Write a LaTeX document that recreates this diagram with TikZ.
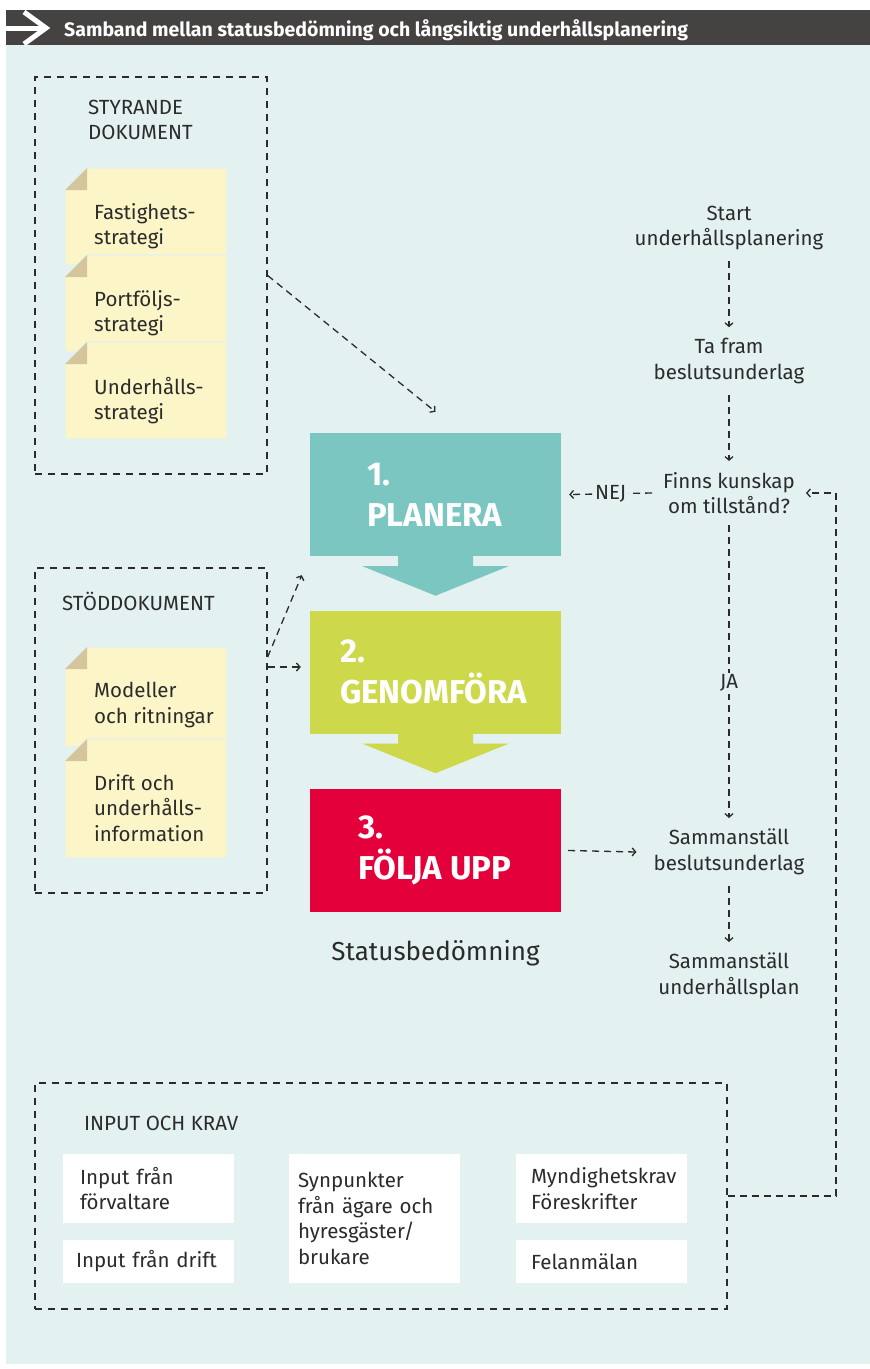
\documentclass[tikz,border=0pt]{standalone}
\usepackage{fontspec}
\setmainfont{Fira Sans}
\usetikzlibrary{arrows.meta}
\definecolor{bgblue}{HTML}{E3F1F1}
\definecolor{headgray}{HTML}{454341}
\definecolor{textgray}{HTML}{2B2B2B}
\definecolor{planteal}{HTML}{7BC6C0}
\definecolor{genomgreen}{HTML}{CDD84A}
\definecolor{foljred}{HTML}{E4003A}
\definecolor{noteyellow}{HTML}{FBF5C8}
\definecolor{foldtan}{HTML}{D4C59D}
\tikzset{
  frame/.style={draw=textgray, line width=1.3pt, dash pattern=on 7pt off 6pt, inner sep=0pt},
  flow/.style={draw=textgray, line width=1.3pt, dash pattern=on 7pt off 5pt, -{Straight Barb[length=3.5pt,width=8pt]}},
  flowtext/.style={align=center, inner sep=11pt, text=textgray},
  flowlabel/.style={fill=bgblue, inner sep=2pt, text=textgray},
  block/.style={minimum width=251pt, minimum height=123pt, inner sep=0pt},
  blocktext/.style={font=\fontsize{33}{41}\selectfont\bfseries, text=white, align=left, inner sep=0pt, anchor=west},
  notetext/.style={align=left, inner sep=0pt, anchor=north west, text=textgray},
  framelabel/.style={align=left, inner sep=0pt, text=textgray},
  inputbox/.style={fill=white, minimum width=171pt, align=left, text width=#1, inner xsep=0pt, inner ysep=0pt, text=textgray}
}
\begin{document}
\begin{tikzpicture}[x=1pt, y=-1pt, font=\fontsize{20.5}{25.5}\selectfont]
  \useasboundingbox (0,0) rectangle (870,1369);
  \fill[white] (0,0) rectangle (870,1369);
  \fill[bgblue] (6,45) rectangle (870,1364);
  \fill[headgray] (6,10) rectangle (870,45);
  \draw[white, line width=5pt] (6,28) -- (42,28);
  \draw[white, line width=5pt] (24,12) -- (46,28) -- (24,44);
  \node[anchor=base west, inner sep=0pt, text=white, font=\fontsize{19.5}{22}\selectfont\bfseries] (title) at (64,36) {Samband mellan statusbedömning och långsiktig underhållsplanering};

  % dokumentramar
  \node[frame, minimum width=232pt, minimum height=397pt] (styr) at (151,275.5) {};
  \node[frame, minimum width=232pt, minimum height=325pt] (stod) at (151,730.5) {};
  \node[frame, minimum width=692pt, minimum height=226pt] (input) at (381,1196) {};
  \node[framelabel, anchor=north west] (styrlabel) at (88,99.5) {STYRANDE\\DOKUMENT};
  \node[framelabel, anchor=base west] (stodlabel) at (62,610) {STÖDDOKUMENT};
  \node[framelabel, anchor=base west] (inputlabel) at (84,1130) {INPUT OCH KRAV};

  % lappar
  \foreach \t/\h/\txt [count=\i] in {168/97/{Fastighets-\\strategi}, 255/97/{Portföljs-\\strategi}, 342/97/{Underhålls-\\strategi}, 647/100/{Modeller\\och ritningar}, 739/119/{Drift och\\underhålls-\\information}}{
    \filldraw[fill=noteyellow, draw=bgblue, line width=1.2pt] (65,\t+22) -- (87,\t) -- (227,\t) -- (227,\t+\h) -- (65,\t+\h) -- cycle;
    \fill[foldtan] (65,\t+22) -- (87,\t) -- (87,\t+22) -- cycle;
    \node[notetext] (note\i) at (94,\t+35) {\txt};
  }

  % faser
  \node[block, fill=planteal] (plan) at (435.5,494.5) {};
  \node[block, fill=genomgreen] (genom) at (435.5,672) {};
  \node[block, fill=foljred] (folj) at (435.5,850.5) {};
  \foreach \b/\c in {plan/planteal, genom/genomgreen}
    \fill[\c] ([xshift=-37.5pt]\b.south) -- ([xshift=37.5pt]\b.south) -- ([shift={(37.5pt,-10pt)}]\b.south) -- ([shift={(73pt,-10pt)}]\b.south) -- ([yshift=-39.5pt]\b.south) -- ([shift={(-73pt,-10pt)}]\b.south) -- ([shift={(-37.5pt,-10pt)}]\b.south) -- cycle;
  \node[blocktext] (plantext) at ([xshift=57pt]plan.west) {1.\\PLANERA};
  \node[blocktext] (genomtext) at ([xshift=30pt]genom.west) {2.\\GENOMFÖRA};
  \node[blocktext] (foljtext) at ([xshift=48pt]folj.west) {3.\\FÖLJA UPP};
  \node[text=textgray, font=\fontsize{26}{30}\selectfont] (status) at (435.5,953) {Statusbedömning};

  % planeringsflöde
  \node[flowtext] (start) at (729,228) {Start\\underhållsplanering};
  \node[flowtext] (tafram) at (729,361) {Ta fram\\beslutsunderlag};
  \node[flowtext] (finns) at (729,493) {Finns kunskap\\om tillstånd?};
  \node[flowtext] (samb) at (729,852) {Sammanställ\\beslutsunderlag};
  \node[flowtext] (sampl) at (729,976) {Sammanställ\\underhållsplan};
  \draw[flow] (start) -- (tafram);
  \draw[flow] (tafram) -- (finns);
  \draw[flow] (finns.west) -- node[flowlabel] {NEJ} ([xshift=8pt]plan.east);
  \draw[flow] (finns.south) -- node[flowlabel, pos=0.54] {JA} (samb.north);
  \draw[flow] (samb) -- (sampl);
  \draw[flow] ([xshift=7pt]folj.east) -- ([xshift=-6pt]samb.west);
  \draw[flow] (input.east) -| ([xshift=30pt]finns.east) -- (finns.east);
  \draw[flow] (styr.east) -- ([yshift=21pt]plan.north);
  \draw[flow] ([yshift=15pt]stod.east |- genom.west) -- ([shift={(-8pt,-19pt)}]plan.south west);
  \draw[flow] ([yshift=5pt]stod.east |- genom.west) -- ([shift={(-9pt,5pt)}]genom.west);

  % input och krav
  \node[inputbox=137pt, minimum height=69pt] (forv) at (148.5,1188.5) {Input från\\förvaltare};
  \node[inputbox=145pt, minimum height=43pt] (drift) at (148.5,1261.5) {Input från drift};
  \node[inputbox=153pt, minimum height=129pt] (synp) at (374.5,1218.5) {Synpunkter\\från ägare och\\hyresgäster/\\brukare};
  \node[inputbox=141pt, minimum height=69pt] (mynd) at (601.5,1188.5) {Myndighetskrav\\Föreskrifter};
  \node[inputbox=141pt, minimum height=43pt] (fel) at (601.5,1261.5) {Felanmälan};
\end{tikzpicture}
\end{document}
